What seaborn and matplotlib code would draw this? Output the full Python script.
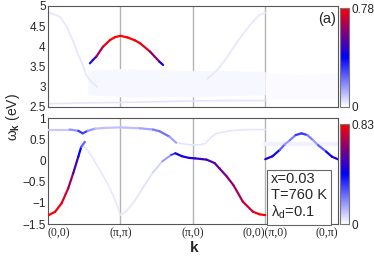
import numpy as np
import matplotlib
matplotlib.use("Agg")
import matplotlib.pyplot as plt
import seaborn as sns
from matplotlib.collections import LineCollection
from matplotlib.colors import LinearSegmentedColormap, Normalize
from matplotlib.cm import ScalarMappable

# k path: (0,0)-(pi,pi)-(pi,0)-(0,0) | (pi,0)-(0,pi)
k_pos = [0, 1, 2, 3, 4]
k_labels = ["(0,0)", "(π,π)", "(π,0)", "(0,0)(π,0)", "(0,π)"]

# ---- upper panel (eV) ----
top_vmax = 0.78
top_main_k = [0.58, 0.62, 0.67, 0.76, 0.86, 0.93, 1.0, 1.1, 1.2, 1.27, 1.41, 1.54, 1.59]
top_main_e = [3.58, 3.66, 3.75, 3.99, 4.16, 4.23, 4.26, 4.22, 4.15, 4.08, 3.87, 3.62, 3.54]
top_main_w = [0.30, 0.42, 0.55, 0.72, 0.78, 0.78, 0.78, 0.78, 0.78, 0.76, 0.70, 0.50, 0.35]

top_down_k = [0, 0.03, 0.17, 0.26, 0.35, 0.42, 0.49, 0.53, 0.60, 0.68]
top_down_e = [4.85, 4.83, 4.73, 4.49, 4.12, 3.79, 3.50, 3.29, 3.12, 3.00]
top_up_k = [2.20, 2.34, 2.46, 2.60, 2.79, 2.92, 3.0]
top_up_e = [3.20, 3.42, 3.70, 4.08, 4.53, 4.78, 4.83]
top_low_k = [0, 0.5, 1.0, 1.5, 2.0, 2.5, 3.0]
top_low_e = [2.58, 2.60, 2.61, 2.63, 2.65, 2.66, 2.66]
faint_w = 0.04

haze_k = [0.55, 1.0, 1.5, 2.0, 2.5, 3.0, 3.0, 3.5, 4.0]
haze_lo = [2.80, 2.75, 2.75, 2.75, 2.78, 2.80, 2.70, 2.70, 2.70]
haze_hi = [3.40, 3.45, 3.42, 3.40, 3.40, 3.38, 3.35, 3.30, 3.35]

# ---- lower panel (eV) ----
bot_vmax = 0.83
bot_rise_k = [0.0, 0.10, 0.19, 0.28, 0.35, 0.42, 0.46, 0.51]
bot_rise_e = [-1.30, -1.21, -1.01, -0.66, -0.30, 0.09, 0.32, 0.44]
bot_rise_w = [0.83, 0.82, 0.80, 0.74, 0.60, 0.46, 0.36, 0.15]

bot_upper_k = [0, 0.30, 0.42, 0.48, 0.55, 0.65, 0.80, 1.0, 1.27, 1.45, 1.54, 1.68, 1.77]
bot_upper_e = [0.73, 0.73, 0.70, 0.64, 0.70, 0.75, 0.77, 0.78, 0.76, 0.73, 0.69, 0.56, 0.42]
bot_upper_w = [0.08, 0.10, 0.25, 0.40, 0.22, 0.12, 0.10, 0.10, 0.12, 0.18, 0.25, 0.22, 0.08]

bot_upper2_k = [1.77, 1.95, 2.10, 2.17, 2.25, 2.33, 2.50, 2.65, 2.80, 3.0]
bot_upper2_e = [0.42, 0.37, 0.37, 0.40, 0.55, 0.64, 0.70, 0.72, 0.73, 0.73]

bot_vl_k = [0.46, 0.52, 0.60, 0.70, 0.81, 0.90, 0.97, 1.0]
bot_vl_e = [0.40, 0.30, 0.12, -0.18, -0.50, -0.82, -1.13, -1.29]
bot_vr_k = [1.0, 1.08, 1.18, 1.31, 1.45, 1.58, 1.70, 1.76]
bot_vr_e = [-1.29, -1.20, -1.00, -0.65, -0.28, -0.02, 0.13, 0.17]
bot_vr_w = [0.04, 0.04, 0.04, 0.045, 0.055, 0.10, 0.26, 0.42]

bot_main_k = [1.76, 1.85, 1.95, 2.03, 2.19, 2.30, 2.37, 2.47, 2.56, 2.69, 2.83, 2.92, 3.0]
bot_main_e = [0.17, 0.10, 0.06, 0.05, 0.02, -0.06, -0.19, -0.38, -0.58, -0.97, -1.21, -1.27, -1.29]
bot_main_w = [0.42, 0.44, 0.46, 0.48, 0.52, 0.55, 0.58, 0.62, 0.66, 0.72, 0.78, 0.82, 0.83]

bot_bump_k = [3.0, 3.10, 3.20, 3.27, 3.34, 3.42, 3.50, 3.58, 3.66, 3.73, 3.84, 3.92, 4.0]
bot_bump_e = [0.03, 0.10, 0.25, 0.38, 0.48, 0.60, 0.64, 0.60, 0.48, 0.36, 0.21, 0.09, 0.03]
bot_bump_w = [0.48, 0.45, 0.35, 0.18, 0.15, 0.28, 0.38, 0.28, 0.15, 0.18, 0.35, 0.45, 0.48]

bot_haze_k = [3.0, 4.0]
bot_haze_e = [0.38, 0.38]

sns.set_style("white")
plt.rcParams["font.family"] = ["Liberation Sans", "DejaVu Sans"]
plt.rcParams["mathtext.fontset"] = "custom"
plt.rcParams["mathtext.rm"] = "Liberation Sans"
plt.rcParams["mathtext.bf"] = "Liberation Sans:bold"

cmap = LinearSegmentedColormap.from_list("sw", [(0, "white"), (0.5, "blue"), (1, "red")])


def band(ax, k, e, w, norm, lw=1.6):
    pts = np.column_stack([k, e])
    segs = np.stack([pts[:-1], pts[1:]], axis=1)
    wm = (np.array(w[:-1]) + np.array(w[1:])) / 2
    ax.add_collection(LineCollection(segs, colors=cmap(norm(wm)), linewidths=lw,
                                     capstyle="round", zorder=3))


def faint(ax, k, e, w, norm, lw=1.2):
    sns.lineplot(x=k, y=e, ax=ax, color=cmap(norm(w)), lw=lw, sort=False,
                 estimator=None, zorder=2)


fig = plt.figure(figsize=(3.74, 2.59), dpi=100)
ax1 = fig.add_axes([0.128, 0.587, 0.775, 0.39])
ax2 = fig.add_axes([0.128, 0.135, 0.775, 0.409])
cax1 = fig.add_axes([0.909, 0.587, 0.025, 0.382])
cax2 = fig.add_axes([0.909, 0.135, 0.025, 0.386])

n1 = Normalize(0, top_vmax)
n2 = Normalize(0, bot_vmax)

# upper panel
ax1.fill_between(haze_k[:6], haze_lo[:6], haze_hi[:6], color=cmap(n1(0.013)), lw=0, zorder=1)
ax1.fill_between(haze_k[6:], haze_lo[6:], haze_hi[6:], color=cmap(n1(0.009)), lw=0, zorder=1)
faint(ax1, top_down_k, top_down_e, faint_w, n1)
faint(ax1, top_up_k, top_up_e, faint_w, n1)
faint(ax1, top_low_k, top_low_e, faint_w, n1)
band(ax1, top_main_k, top_main_e, top_main_w, n1)
ax1.text(0.993, 0.94, "(a)", transform=ax1.transAxes, ha="right", va="top", fontsize=10.5)

# lower panel
faint(ax2, bot_vl_k, bot_vl_e, 0.04, n2)
faint(ax2, bot_upper2_k, bot_upper2_e, 0.045, n2)
faint(ax2, bot_haze_k, bot_haze_e, 0.025, n2, lw=3)
band(ax2, bot_vr_k, bot_vr_e, bot_vr_w, n2, lw=1.3)
band(ax2, bot_upper_k, bot_upper_e, bot_upper_w, n2)
band(ax2, bot_rise_k, bot_rise_e, bot_rise_w, n2)
band(ax2, bot_main_k, bot_main_e, bot_main_w, n2)
band(ax2, bot_bump_k, bot_bump_e, bot_bump_w, n2)
ax2.text(0.77, 0.03, "x=0.03\nT=760 K\nλ$_\\mathregular{d}$=0.1", transform=ax2.transAxes,
         ha="left", va="bottom", fontsize=10.5, linespacing=1.12, zorder=5,
         bbox=dict(boxstyle="square,pad=0.25", fc="white", ec="#666666", lw=0.8))

for ax, ylim, yt in [(ax1, (2.5, 5), [2.5, 3, 3.5, 4, 4.5, 5]),
                     (ax2, (-1.5, 1), [-1.5, -1, -0.5, 0, 0.5, 1])]:
    ax.set_xlim(0, 4)
    ax.set_ylim(*ylim)
    for x in k_pos[1:4]:
        ax.axvline(x, color="#b4b4b4", lw=1, zorder=0)
    ax.set_yticks(yt)
    ax.set_yticklabels([f"{v:g}".replace("-", "−") for v in yt])
    ax.set_xticks(k_pos)
    ax.tick_params(axis="y", direction="in", length=2.5, labelsize=8.5, pad=1.5, color="#555555")
    ax.tick_params(axis="x", length=0)
    for s in ax.spines.values():
        s.set_color("#555555")
        s.set_linewidth(0.8)

ax1.set_xticklabels([])
ax2.set_xticklabels(k_labels, fontfamily="Liberation Serif", fontsize=8.5)
tl = ax2.get_xticklabels()
tl[0].set_ha("left")
tl[-1].set_ha("right")
ax2.tick_params(axis="x", pad=2)

fig.text(0.519, 0.015, "k", fontsize=11, fontweight="bold", ha="center", va="bottom")
fig.text(0.012, 0.55, "ω$_\\mathbf{k}$ (eV)", fontsize=10, rotation=90,
         ha="left", va="center")

for cax, norm, vmax in [(cax1, n1, top_vmax), (cax2, n2, bot_vmax)]:
    cb = fig.colorbar(ScalarMappable(norm=norm, cmap=cmap), cax=cax)
    ticks = np.linspace(0, vmax, 6)
    cb.set_ticks(ticks)
    cb.set_ticklabels(["0", "", "", "", "", f"{vmax:g}"])
    cax.tick_params(direction="in", length=2, labelsize=8.5, pad=1.5, color="#777777")
    cb.outline.set_edgecolor("#777777")
    cb.outline.set_linewidth(0.8)

fig.savefig("out.png", dpi=100)
